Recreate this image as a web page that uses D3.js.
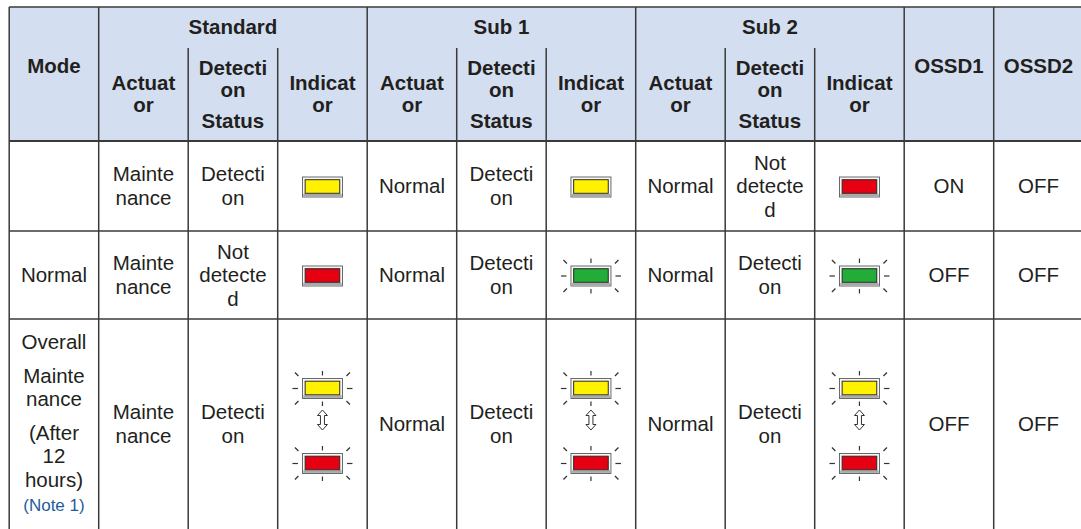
<!DOCTYPE html>
<html>
<head>
<meta charset="utf-8">
<script src="https://cdn.jsdelivr.net/npm/d3@7"></script>
<style>
  html, body { margin: 0; padding: 0; background: #ffffff; }
  svg { display: block; }
</style>
</head>
<body>
<svg id="chart" width="1081" height="529"></svg>
<script>
// ---------------- DATA ----------------
// Text cells: "|" separates paragraphs, "/" separates wrapped lines.
const groupHeaders = ["Standard", "Sub 1", "Sub 2"];
const subHeaders = ["Actuat/or", "Detecti/on|Status", "Indicat/or"];
const sideHeaders = ["Mode", "OSSD1", "OSSD2"];

const modes = ["", "Normal", "Overall|Mainte/nance|(After/12/hours)"];
const modeNotes = ["", "", "(Note 1)"];

// per row: [Standard, Sub 1, Sub 2]
const actuators = [
  ["Mainte/nance", "Normal", "Normal"],
  ["Mainte/nance", "Normal", "Normal"],
  ["Mainte/nance", "Normal", "Normal"]
];
const detections = [
  ["Detecti/on", "Detecti/on", "Not/detecte/d"],
  ["Not/detecte/d", "Detecti/on", "Detecti/on"],
  ["Detecti/on", "Detecti/on", "Detecti/on"]
];
const indicatorLamps = [
  [["yellow"], ["yellow"], ["red"]],
  [["red"], ["green"], ["green"]],
  [["yellow", "red"], ["yellow", "red"], ["yellow", "red"]]
];
const indicatorBlink = [
  [false, false, false],
  [false, true, true],
  [true, true, true]
];
const ossd1 = ["ON", "OFF", "OFF"];
const ossd2 = ["OFF", "OFF", "OFF"];

// ---------------- STYLE / LAYOUT ----------------
const lampColor = { yellow: "#FFF100", red: "#E60012", green: "#22AC38" };
const headerBg = "#D3DFF0";
const lineColor = "#3a3a3a";
const textColor = "#231f20";
const noteColor = "#1F5C99";
const FONT = "'Liberation Sans', Arial, Helvetica, sans-serif";
const FS = 20.5;

const svg = d3.select("#chart");
const nCols = 12;
const x = d3.scaleLinear().domain([0, nCols]).range([9.2, 9.2 + nCols * 89.5]);
const colMid = i => (x(i) + x(i + 1)) / 2;

const headTop = 7, headMid = 47, headBot = 141;
const rowEdges = [headBot, 231, 319, 529];
const yRow = d3.scaleOrdinal().domain([0, 1, 2]).range([0, 1, 2].map(i => (rowEdges[i] + rowEdges[i + 1]) / 2));

// header background
svg.append("rect")
  .attr("x", x(0)).attr("y", headTop)
  .attr("width", x(nCols) - x(0)).attr("height", headBot - headTop)
  .attr("fill", headerBg);

// text block helper
function textBlock(g, str, cx, cy, opts) {
  const pitch = opts.pitch, gap = opts.gap, fs = opts.fs;
  const paras = str === "" ? [] : str.split("|").map(p => p.split("/"));
  const lines = [];
  let off = 0;
  paras.forEach((p, pi) => {
    if (pi > 0) off += gap;
    p.forEach(l => {
      if (lines.length > 0) off += pitch;
      lines.push({ t: l, y: off, fill: textColor, fs: fs });
    });
  });
  if (opts.note) {
    off += pitch + 1;
    lines.push({ t: opts.note, y: off, fill: noteColor, fs: opts.noteFs });
    cy -= 1;
  }
  if (!lines.length) return;
  const span = lines[lines.length - 1].y;
  const y0 = cy - span / 2 + 0.35 * fs;
  g.selectAll(null).data(lines).enter().append("text")
    .attr("x", cx).attr("y", d => y0 + d.y)
    .attr("text-anchor", "middle")
    .attr("font-family", FONT)
    .attr("font-weight", opts.bold ? "bold" : "normal")
    .attr("font-size", d => d.fs)
    .attr("fill", d => d.fill)
    .text(d => d.t);
}

const gHead = svg.append("g");
const headOpts = { pitch: 22, gap: 9, fs: FS, bold: true };
// side headers: Mode (col 0), OSSD1 (col 10), OSSD2 (col 11)
[0, 10, 11].forEach((c, i) => textBlock(gHead, sideHeaders[i], colMid(c), 66, headOpts));
// group headers
groupHeaders.forEach((gName, gi) => {
  textBlock(gHead, gName, (x(1 + gi * 3) + x(4 + gi * 3)) / 2, (headTop + headMid) / 2, headOpts);
  subHeaders.forEach((s, si) => {
    textBlock(gHead, s, colMid(1 + gi * 3 + si), (headMid + headBot) / 2, headOpts);
  });
});

// body text
const gBody = svg.append("g");
const bodyOpts = { pitch: 23.5, gap: 10, fs: FS, bold: false };
[0, 1, 2].forEach(r => {
  const cy = yRow(r);
  textBlock(gBody, modes[r], colMid(0), cy, Object.assign({}, bodyOpts, { note: modeNotes[r] || null, noteFs: 17 }));
  [0, 1, 2].forEach(u => {
    textBlock(gBody, actuators[r][u], colMid(1 + u * 3), cy, bodyOpts);
    textBlock(gBody, detections[r][u], colMid(2 + u * 3), cy, bodyOpts);
  });
  textBlock(gBody, ossd1[r], colMid(10), cy, bodyOpts);
  textBlock(gBody, ossd2[r], colMid(11), cy, bodyOpts);
});

// indicator lamps
function lamp(g, cx, cy, color, blink) {
  const w = 40, h = 20;
  g.append("rect").attr("x", cx - w / 2).attr("y", cy - h / 2).attr("width", w).attr("height", h)
    .attr("fill", "#f7f7f7").attr("stroke", "#5a5a5a").attr("stroke-width", 0.9);
  g.append("rect").attr("x", cx - w / 2 + 0.8).attr("y", cy + h / 2 - 3.2).attr("width", w - 1.6).attr("height", 2.6)
    .attr("fill", "#a9a9a9");
  g.append("rect").attr("x", cx - 17.3).attr("y", cy - 7.3).attr("width", 34.6).attr("height", 13.6)
    .attr("fill", lampColor[color]).attr("stroke", "#2a2a2a").attr("stroke-width", 1);
  if (blink) {
    const rays = [
      [-30, 0, -24.5, 0], [24.5, 0, 30, 0],
      [0, -17.5, 0, -13], [0, 13, 0, 17.5],
      [-27.5, -16, -24, -12.5], [27.5, -16, 24, -12.5],
      [-27.5, 16, -24, 12.5], [27.5, 16, 24, 12.5]
    ];
    g.selectAll(null).data(rays).enter().append("line")
      .attr("x1", d => cx + d[0]).attr("y1", d => cy + d[1])
      .attr("x2", d => cx + d[2]).attr("y2", d => cy + d[3])
      .attr("stroke", "#333").attr("stroke-width", 1.2);
  }
}
function dblArrow(g, cx, cy) {
  const pts = [[0, -10], [-5, -4.5], [-2, -4.5], [-2, 4.5], [-5, 4.5], [0, 10], [5, 4.5], [2, 4.5], [2, -4.5], [5, -4.5]];
  g.append("path")
    .attr("d", "M" + pts.map(p => (cx + p[0]) + "," + (cy + p[1])).join("L") + "Z")
    .attr("fill", "#fff").attr("stroke", "#333").attr("stroke-width", 1);
}
const gLamp = svg.append("g");
[0, 1, 2].forEach(r => {
  [0, 1, 2].forEach(u => {
    const cx = colMid(3 + u * 3);
    const lamps = indicatorLamps[r][u];
    const blink = indicatorBlink[r][u];
    if (lamps.length === 1) {
      lamp(gLamp, cx, yRow(r) + 1, lamps[0], blink);
    } else {
      const cy = yRow(r) + 2;
      lamp(gLamp, cx, cy - 37.5, lamps[0], blink);
      dblArrow(gLamp, cx, cy - 6);
      lamp(gLamp, cx, cy + 37.5, lamps[1], blink);
    }
  });
});

// grid lines
const gGrid = svg.append("g").attr("stroke", lineColor).attr("stroke-width", 1.5);
[headTop, rowEdges[1], rowEdges[2]].forEach(y => {
  gGrid.append("line").attr("x1", x(0)).attr("x2", x(nCols)).attr("y1", y).attr("y2", y);
});
gGrid.append("line").attr("x1", x(0)).attr("x2", x(nCols)).attr("y1", headBot).attr("y2", headBot).attr("stroke-width", 2);
[0, 1, 4, 7, 10, 11].forEach(c => {
  gGrid.append("line").attr("x1", x(c)).attr("x2", x(c)).attr("y1", headTop).attr("y2", 529);
});
[2, 3, 5, 6, 8, 9].forEach(c => {
  gGrid.append("line").attr("x1", x(c)).attr("x2", x(c)).attr("y1", headMid + 1).attr("y2", 529);
});
</script>
</body>
</html>
